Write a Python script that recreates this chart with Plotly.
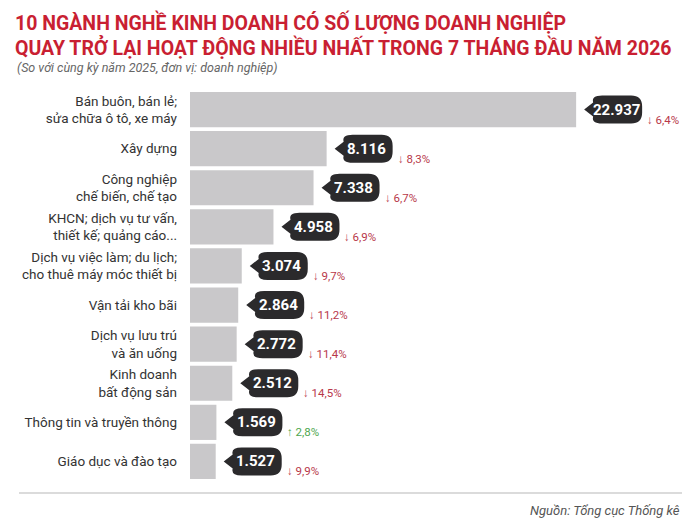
import plotly.graph_objects as go

# Data
categories = [
    "Bán buôn, bán lẻ;<br>sửa chữa ô tô, xe máy",
    "Xây dựng",
    "Công nghiệp<br>chế biến, chế tạo",
    "KHCN; dịch vụ tư vấn,<br>thiết kế; quảng cáo...",
    "Dịch vụ việc làm; du lịch;<br>cho thuê máy móc thiết bị",
    "Vận tải kho bãi",
    "Dịch vụ lưu trú<br>và ăn uống",
    "Kinh doanh<br>bất động sản",
    "Thông tin và truyền thông",
    "Giáo dục và đào tạo",
]
values = [22937, 8116, 7338, 4958, 3074, 2864, 2772, 2512, 1569, 1527]
changes = [-6.4, -8.3, -6.7, -6.9, -9.7, -11.2, -11.4, -14.5, 2.8, -9.9]

title_lines = [
    "10 NGÀNH NGHỀ KINH DOANH CÓ SỐ LƯỢNG DOANH NGHIỆP",
    "QUAY TRỞ LẠI HOẠT ĐỘNG NHIỀU NHẤT TRONG 7 THÁNG ĐẦU NĂM 2026",
]
subtitle = "(So với cùng kỳ năm 2025, đơn vị: doanh nghiệp)"
source = "Nguồn: Tổng cục Thống kê"

RED = "#c91f32"
BUBBLE = "#2b2a2c"
BAR = "#c9c8ca"
DOWN = "#b8384a"
UP = "#4ea64e"
FONT = "Roboto"

# the page adds an 8px body margin, so the figure is a bit smaller
OFF = 8
W, H = 692, 514
L, R, T, B = 182, 10, 82, 41
PW, PH = W - L - R, H - T - B


# page pixel -> paper coords
def px_x(p):
    return (p - OFF - L) / PW


def px_y(p):
    return (H - B - (p - OFF)) / PH


def fmt_val(v):
    return f"{v:,}".replace(",", ".")


def fmt_pct(p):
    arrow = "↑" if p > 0 else "↓"
    return arrow + " " + f"{abs(p):.1f}".replace(".", ",") + "%"


fig = go.Figure(
    go.Bar(
        x=values,
        y=categories,
        orientation="h",
        marker=dict(color=BAR, line=dict(width=0)),
        hoverinfo="skip",
    )
)

# speech-bubble path, in pixels relative to the bar end
x0, x1, h, r = 15, 66, 14, 11
bubble = (
    f"M 8,0 L {x0 + 2},-7 Q {x0},-{h} {x0 + r},-{h} "
    f"L {x1 - r},-{h} Q {x1},-{h} {x1},-{h - r} "
    f"L {x1},{h - r} Q {x1},{h} {x1 - r},{h} "
    f"L {x0 + r},{h} Q {x0},{h} {x0 + 2},7 Z"
)

shapes = []
annotations = []
for cat, v, p in zip(categories, values, changes):
    shapes.append(
        dict(
            type="path",
            xref="x",
            yref="y",
            xsizemode="pixel",
            ysizemode="pixel",
            xanchor=v,
            yanchor=cat,
            path=bubble,
            fillcolor=BUBBLE,
            line=dict(width=0),
            layer="above",
        )
    )
    annotations.append(
        dict(
            x=v, y=cat, xref="x", yref="y", xanchor="center", yanchor="middle",
            xshift=40, text=f"<b>{fmt_val(v)}</b>", showarrow=False,
            font=dict(family=FONT, size=15, color="white"),
        )
    )
    annotations.append(
        dict(
            x=v, y=cat, xref="x", yref="y", xanchor="left", yanchor="middle",
            xshift=69, yshift=-10, text=fmt_pct(p), showarrow=False,
            font=dict(family=FONT, size=11.5, color=UP if p > 0 else DOWN),
        )
    )

# title, subtitle, source
annotations += [
    dict(
        x=px_x(13), y=px_y(8), xref="paper", yref="paper", xanchor="left",
        yanchor="top", align="left", showarrow=False,
        text="<b>" + "<br>".join(title_lines) + "</b>",
        font=dict(family=FONT, size=19.5, color=RED),
    ),
    dict(
        x=px_x(15), y=px_y(67), xref="paper", yref="paper", xanchor="left",
        yanchor="middle", showarrow=False, text=f"<i>{subtitle}</i>",
        font=dict(family=FONT, size=12.5, color="#666666"),
    ),
    dict(
        x=px_x(682), y=px_y(510), xref="paper", yref="paper", xanchor="right",
        yanchor="middle", showarrow=False, text=f"<i>{source}</i>",
        font=dict(family=FONT, size=13, color="#555555"),
    ),
]

shapes.append(
    dict(
        type="line", xref="paper", yref="paper",
        x0=px_x(19), x1=px_x(682), y0=px_y(493), y1=px_y(493),
        line=dict(color="#cfcfcf", width=1.5),
    )
)

fig.update_layout(
    width=W,
    height=H,
    margin=dict(l=L, r=R, t=T, b=B),
    paper_bgcolor="white",
    plot_bgcolor="white",
    bargap=0.1,
    showlegend=False,
    shapes=shapes,
    annotations=annotations,
    xaxis=dict(
        range=[0, 29700], visible=False, showgrid=False, zeroline=False,
    ),
    yaxis=dict(
        autorange="reversed",
        showgrid=False,
        zeroline=False,
        showline=False,
        ticks="",
        ticklabelstandoff=12,
        tickfont=dict(family=FONT, size=13.5, color="#333333"),
    ),
)

fig.write_html("out.html")
